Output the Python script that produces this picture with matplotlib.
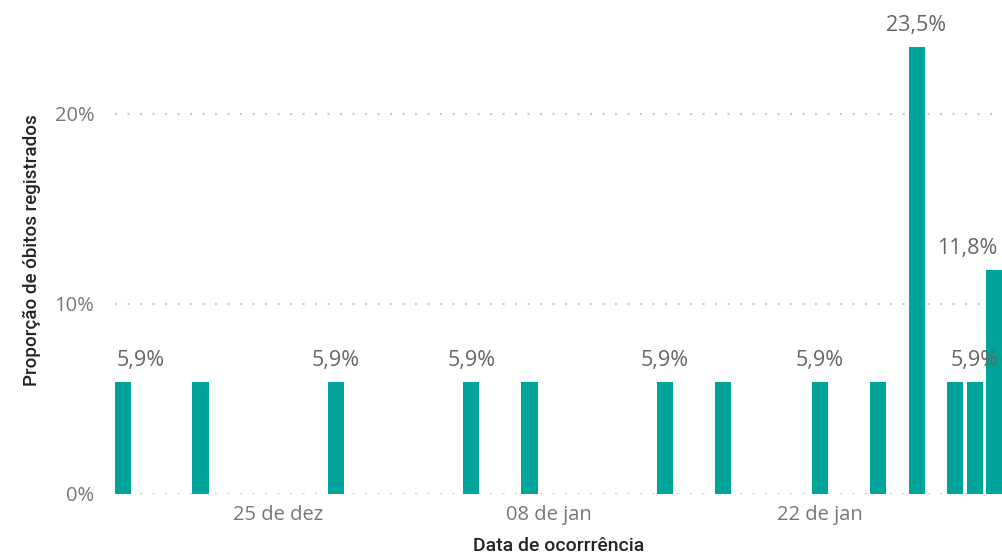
import numpy as np
import pandas as pd
import matplotlib
matplotlib.use('Agg')
import matplotlib.pyplot as plt
import matplotlib.dates as mdates

# Data
dates = ['2020-12-17', '2020-12-21', '2020-12-28', '2021-01-04', '2021-01-07',
         '2021-01-14', '2021-01-17', '2021-01-22', '2021-01-25', '2021-01-27',
         '2021-01-29', '2021-01-30', '2021-01-31']
values = [5.9, 5.9, 5.9, 5.9, 5.9, 5.9, 5.9, 5.9, 5.9, 23.5, 5.9, 5.9, 11.8]
labeled = [0, 2, 3, 5, 7, 9, 11, 12]   # bars that show a data label

tick_dates = ['2020-12-25', '2021-01-08', '2021-01-22']
tick_labels = ['25 de dez', '08 de jan', '22 de jan']
y_ticks = [0, 10, 20]
y_tick_labels = ['0%', '10%', '20%']

bar_color = '#00A49A'
grey = '#777777'

x = mdates.date2num(pd.to_datetime(dates))
width = 0.83

fig = plt.figure(figsize=(10.02, 5.54), dpi=100)
ax = fig.add_axes([0.1148, 0.1089, 0.8852, 0.857])

ax.bar(x, values, width=width, color=bar_color, zorder=2)

ax.set_xlim(x[0] - width / 2, x[-1] + width / 2)
ax.set_ylim(0, 25)

# Gridlines (dotted)
ax.set_axisbelow(True)
for yv in y_ticks:
    ax.axhline(yv, color='#c8c8c8', lw=1.5, linestyle=(0, (1, 5)), zorder=0)

for s in ax.spines.values():
    s.set_visible(False)

ax.set_yticks(y_ticks)
ax.set_yticklabels(y_tick_labels, fontsize=14.5, color=grey, family='Open Sans')
ax.set_xticks(mdates.date2num(pd.to_datetime(tick_dates)))
ax.set_xticklabels(tick_labels, fontsize=14.5, color=grey, family='Open Sans')
ax.tick_params(axis='y', length=0, pad=15)
ax.tick_params(axis='x', length=0, pad=8)

# Data labels (kept inside the plot area at both ends)
n = len(values)
for i in labeled:
    txt = f'{values[i]:.1f}%'.replace('.', ',')
    if i == 0:
        xy, dx, ha = (x[i] - width / 2, values[i]), 1, 'left'
    elif i == n - 1:
        xy, dx, ha = (x[i] + width / 2, values[i]), -3, 'right'
    else:
        xy, dx, ha = (x[i], values[i]), 0, 'center'
    ax.annotate(txt, xy, xytext=(dx, 11.5), textcoords='offset points',
                ha=ha, va='baseline', fontsize=15.5, color='#666666',
                family='Open Sans', annotation_clip=False)

ax.set_xlabel('Data de ocorrrência', fontsize=14, color='#252423',
              family='Roboto', fontweight='medium')
ax.xaxis.set_label_coords(0.5, -0.0905)
ax.set_ylabel('Proporção de óbitos registrados', fontsize=13.5, color='#252423',
              family='Roboto', fontweight='medium')
ax.yaxis.set_label_coords(-0.083, 0.513)

plt.savefig('out.png', dpi=100)
